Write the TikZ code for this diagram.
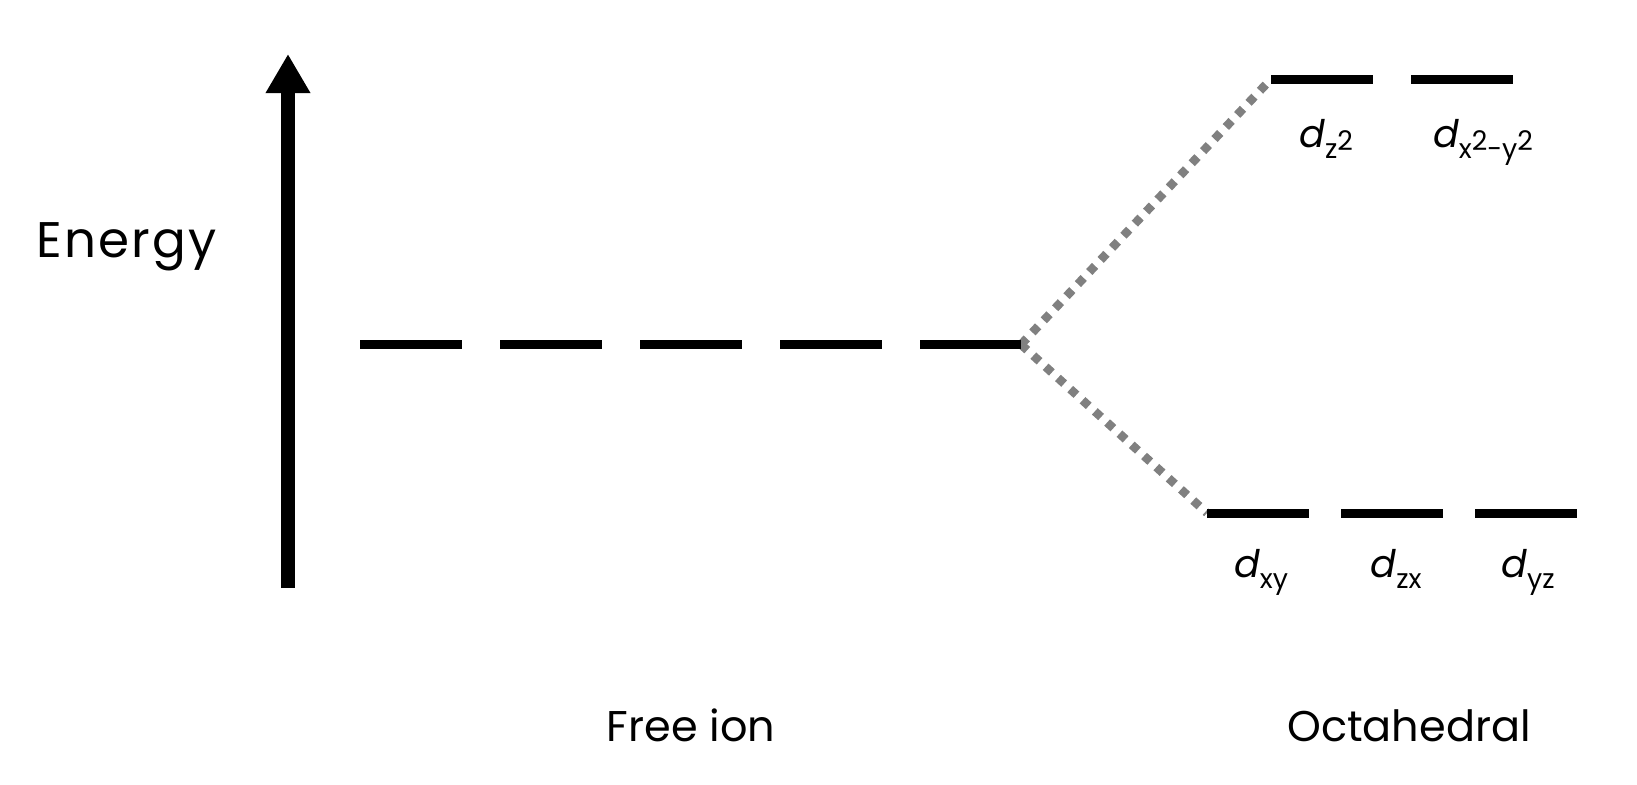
\documentclass[tikz,border=0pt]{standalone}
\usepackage{fontspec}
\setmainfont{Poppins}
\usetikzlibrary{arrows.meta}
\definecolor{dotgray}{RGB}{128,128,128}
\newcommand\dorb[1]{\textit{d}\raisebox{-5.5pt}{\fontsize{13.5}{13.5}\selectfont #1}}
\newcommand\sqtwo{\raisebox{4pt}{2}}
\begin{document}
\begin{tikzpicture}[x=0.5pt,y=-0.5pt,
  level/.style={line width=4.5pt},
  split/.style={draw=dotgray, line width=4.3pt, dash pattern=on 4.2pt off 4.1pt},
  lbl/.style={anchor=base, inner sep=0pt, font=\fontsize{19}{19}\selectfont},
  ttl/.style={anchor=base, inner sep=0pt, font=\fontsize{21.5}{22}\selectfont}]
\useasboundingbox (0,0) rectangle (1637,784);
% energy axis
\coordinate (eb) at (288,588);
\coordinate (et) at (288,54);
\draw[line width=7pt, -{Triangle[width=21pt,length=19.5pt]}] (eb) -- (et);
\node[anchor=base west, inner sep=0pt, font=\fontsize{25}{25}\selectfont\addfontfeatures{LetterSpace=4.5}] (energy) at (36,257) {Energy};
% free ion level
\coordinate (fa) at (360,344.5);
\coordinate (fb) at (1021,344.5);
% octahedral levels
\coordinate (t1a) at (1271,79);  \coordinate (t1b) at (1373,79);
\coordinate (t2a) at (1411,79);  \coordinate (t2b) at (1513,79);
\coordinate (b1a) at (1207,513); \coordinate (b1b) at (1309,513);
\coordinate (b2a) at (1341,513); \coordinate (b2b) at (1443,513);
\coordinate (b3a) at (1475,513); \coordinate (b3b) at (1577,513);
% splitting connectors
\draw[split] (fb) -- (t1a);
\draw[split] (fb) -- (b1a);
% levels
\draw[level, dash pattern=on 51pt off 19pt] (fa) -- (fb);
\draw[level] (t1a) -- (t1b);
\draw[level] (t2a) -- (t2b);
\draw[level] (b1a) -- (b1b);
\draw[level] (b2a) -- (b2b);
\draw[level] (b3a) -- (b3b);
% labels
\node[lbl] (lz2) at (1326,147) {\dorb{z\sqtwo}};
\node[lbl] (lx2y2) at (1483,147) {\dorb{x\sqtwo-y\sqtwo}};
\node[lbl] (lxy) at (1261,577) {\dorb{xy}};
\node[lbl] (lzx) at (1396,577) {\dorb{zx}};
\node[lbl] (lyz) at (1528,577) {\dorb{yz}};
\node[ttl] (free) at (691,741) {Free ion};
\node[ttl] (oct) at (1409,741) {Octahedral};
\end{tikzpicture}
\end{document}
